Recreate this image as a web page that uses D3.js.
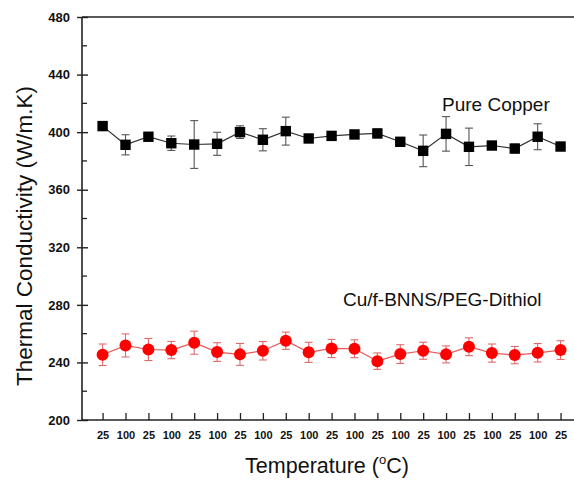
<!DOCTYPE html>
<html>
<head>
<meta charset="utf-8">
<script src="https://cdn.jsdelivr.net/npm/d3@7"></script>
<style>
  body { margin: 0; background: #fff; }
  svg { display: block; font-family: Arial, "Liberation Sans", sans-serif; }
</style>
</head>
<body>
<svg width="574" height="482"></svg>
<script>
// temperature labels for each measurement (alternating cycle)
const tempLabels = ["25","100","25","100","25","100","25","100","25","100","25",
                    "100","25","100","25","100","25","100","25","100","25"];
// Pure Copper
const copperVals = [404.2, 391.2, 396.8, 392.3, 391.4, 391.9, 400.0, 394.7, 400.7, 395.6, 397.4,
                    398.4, 399.1, 393.3, 387.0, 398.8, 389.8, 390.7, 388.6, 396.8, 390.0];
const copperErr  = [2, 7, 1.5, 5, 16.6, 8, 4.4, 7.7, 9.7, 1.5, 1.5,
                    1.5, 3, 2, 11, 12, 13, 1.5, 3, 9, 2.5];
// Cu/f-BNNS/PEG-Dithiol
const compVals = [245.3, 251.8, 249.0, 248.6, 253.7, 247.2, 245.6, 248.1, 255.1, 247.0, 249.7,
                  249.5, 240.9, 245.8, 248.1, 245.6, 250.9, 246.5, 245.1, 246.7, 248.6];
const compErr  = [7.5, 8, 7.7, 6, 8, 6.5, 7.6, 6.4, 6, 7, 6.3,
                  6.2, 5.7, 6.5, 5.9, 5.9, 6.2, 6.3, 6, 6.4, 6.5];
const yTicks = [200, 240, 280, 320, 360, 400, 440, 480];

const svg = d3.select("svg");
const mLeft = 82, mRight = 572, mTop = 17, mBottom = 420;

const x = d3.scaleLinear().domain([0.1, 21.5]).range([mLeft, mRight]);
const y = d3.scaleLinear().domain([200, 480]).range([mBottom, mTop]);

const idx = d3.range(1, tempLabels.length + 1);

// frame
svg.append("line").attr("x1", mLeft).attr("x2", mLeft).attr("y1", mTop).attr("y2", mBottom)
  .attr("stroke", "#222").attr("stroke-width", 1.6);
svg.append("line").attr("x1", mLeft).attr("x2", 574).attr("y1", mTop).attr("y2", mTop)
  .attr("stroke", "#222").attr("stroke-width", 1.6);

// y axis
const yAxis = svg.append("g").attr("transform", `translate(${mLeft},0)`)
  .call(d3.axisLeft(y).tickValues(yTicks).tickSize(5).tickPadding(7));
yAxis.select(".domain").remove();
yAxis.selectAll(".tick line").attr("x2", 6).attr("x1", -5).attr("stroke", "#222").attr("stroke-width", 1.4);
yAxis.selectAll("text").attr("font-size", 13).attr("font-weight", "bold").attr("fill", "#111")
  .attr("font-family", "Arial, 'Liberation Sans', sans-serif");
// minor ticks
svg.append("g").selectAll("line").data(d3.range(220, 480, 40)).join("line")
  .attr("x1", mLeft).attr("x2", mLeft + 5).attr("y1", d => y(d)).attr("y2", d => y(d))
  .attr("stroke", "#222").attr("stroke-width", 1.3);

// x axis
const xAxis = svg.append("g").attr("transform", `translate(0,${mBottom})`)
  .call(d3.axisBottom(x).tickValues(idx).tickFormat(d => tempLabels[d - 1]).tickSize(0).tickPadding(11));
xAxis.select(".domain").attr("d", `M${mLeft},0H574`).attr("stroke", "#222").attr("stroke-width", 1.6);
xAxis.selectAll(".tick line").attr("y2", -7).attr("stroke", "#222").attr("stroke-width", 1.3);
xAxis.selectAll("text").attr("font-size", 11).attr("font-weight", "bold").attr("fill", "#111")
  .attr("font-family", "Arial, 'Liberation Sans', sans-serif");

// axis titles
svg.append("text").attr("transform", "translate(32,236) rotate(-90)")
  .attr("text-anchor", "middle").attr("font-size", 22.5).attr("fill", "#111")
  .text("Thermal Conductivity (W/m.K)");
const xt = svg.append("text").attr("x", 327).attr("y", 473).attr("text-anchor", "middle")
  .attr("font-size", 21.5).attr("fill", "#111");
xt.append("tspan").text("Temperature (");
xt.append("tspan").attr("font-size", 13).attr("dy", -9).text("o");
xt.append("tspan").attr("dy", 9).text("C)");

function drawSeries(vals, errs, lineColor, errColor, marker) {
  const g = svg.append("g");
  const line = d3.line().x((d, i) => x(i + 1)).y(d => y(d));
  g.append("path").datum(vals).attr("d", line).attr("fill", "none")
    .attr("stroke", lineColor).attr("stroke-width", 1.2);
  const eb = g.selectAll(".eb").data(vals).join("g");
  eb.append("line").attr("x1", (d, i) => x(i + 1)).attr("x2", (d, i) => x(i + 1))
    .attr("y1", (d, i) => y(d + errs[i])).attr("y2", (d, i) => y(d - errs[i]))
    .attr("stroke", errColor).attr("stroke-width", 1.1);
  [1, -1].forEach(s => {
    eb.append("line").attr("x1", (d, i) => x(i + 1) - 4).attr("x2", (d, i) => x(i + 1) + 4)
      .attr("y1", (d, i) => y(d + s * errs[i])).attr("y2", (d, i) => y(d + s * errs[i]))
      .attr("stroke", errColor).attr("stroke-width", 1.1);
  });
  if (marker === "square") {
    g.selectAll("rect").data(vals).join("rect")
      .attr("x", (d, i) => x(i + 1) - 5.2).attr("y", d => y(d) - 5.2)
      .attr("width", 10.4).attr("height", 10.4).attr("fill", "#000");
  } else {
    g.selectAll("circle").data(vals).join("circle")
      .attr("cx", (d, i) => x(i + 1)).attr("cy", d => y(d)).attr("r", 6)
      .attr("fill", "#f00");
  }
}

drawSeries(copperVals, copperErr, "#333", "#555", "square");
drawSeries(compVals, compErr, "#e85858", "#e06a6a", "circle");

// series annotations
svg.append("text").attr("x", 442).attr("y", 111).attr("font-size", 19).attr("fill", "#111")
  .text("Pure Copper");
svg.append("text").attr("x", 343).attr("y", 306).attr("font-size", 19).attr("fill", "#111")
  .text("Cu/f-BNNS/PEG-Dithiol");
</script>
</body>
</html>
